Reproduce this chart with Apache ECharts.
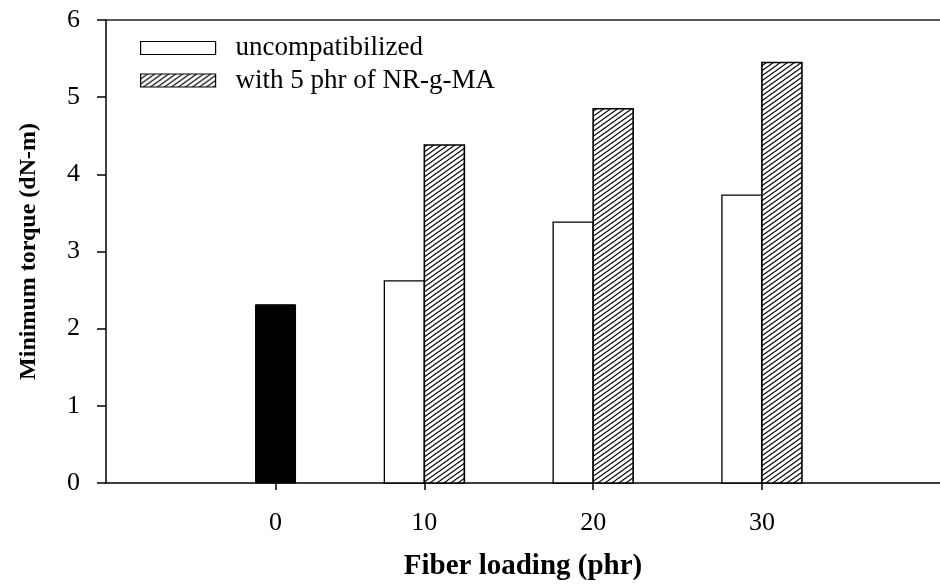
<!DOCTYPE html>
<html>
<head>
<meta charset="utf-8">
<script src="https://cdn.jsdelivr.net/npm/echarts@6/dist/echarts.min.js"></script>
<style>html,body{margin:0;padding:0;background:#fff;}#chart{width:940px;height:586px;}</style>
</head>
<body>
<div id="chart"></div>
<script>
// ---- data ----
const tickLabels = ['0', '10', '20', '30'];
const fiberLoading = [0, 10, 20, 30];
const controlLoading = [0];
const controlValues = [2.31];
const blendLoading = [10, 20, 30];
const uncompatibilized = [2.62, 3.38, 3.73];
const compatibilized = [4.38, 4.85, 5.45];
const seriesNames = ['uncompatibilized', 'with 5 phr of NR-g-MA'];

// ---- layout / style ----
const FONT = 'Liberation Serif';
const GRID = { left: 106, right: 0, top: 20, bottom: 101 };
const X_MIN = -8.86, X_MAX = 40.55;
const BAR_W = 40;
const plotW = 940 - GRID.left - GRID.right;
const pxPerUnit = plotW / (X_MAX - X_MIN);
// the single control bar sits right of its loading value; its tick is at the bar centre
const tickValues = fiberLoading.map((v, i) => i === 0 ? v + (BAR_W / 2) / pxPerUnit : v);

function hatch() {
  const c = document.createElement('canvas');
  c.width = 7; c.height = 5;
  const g = c.getContext('2d');
  g.fillStyle = '#fff'; g.fillRect(0, 0, 7, 5);
  g.strokeStyle = '#000'; g.lineWidth = 1.1;
  for (let k = -1; k <= 1; k++) {
    g.beginPath();
    g.moveTo(k * 7 - 1.4, 6); g.lineTo(k * 7 + 8.4, -1);
    g.stroke();
  }
  return { image: c, repeat: 'repeat' };
}
const hatchFill = hatch();

function barRenderer(side, fill, lw) {
  return function (params, api) {
    const x = api.value(0), y = api.value(1);
    const top = api.coord([x, y]);
    const base = api.coord([x, 0]);
    const left = side < 0 ? top[0] - BAR_W : top[0];
    return {
      type: 'rect',
      shape: { x: left, y: top[1], width: BAR_W, height: base[1] - top[1] },
      style: { fill: fill, stroke: '#000', lineWidth: lw }
    };
  };
}

const chart = echarts.init(document.getElementById('chart'), null, { renderer: 'canvas' });
chart.setOption({
  animation: false,
  backgroundColor: '#fff',
  textStyle: { fontFamily: FONT, color: '#000' },
  grid: GRID,
  legend: {
    orient: 'vertical',
    left: 140,
    top: 34.5,
    padding: 0,
    itemWidth: 75,
    itemHeight: 13,
    itemGap: 5.5,
    icon: 'rect',
    selectedMode: false,
    textStyle: { fontFamily: FONT, fontSize: 27, color: '#000', lineHeight: 26, padding: [0, 0, 0, 15] },
    data: [
      { name: seriesNames[0], itemStyle: { color: '#fff', borderColor: '#000', borderWidth: 1.2 } },
      { name: seriesNames[1], itemStyle: { color: hatchFill, borderColor: '#000', borderWidth: 1.2 } }
    ]
  },
  xAxis: [{
    type: 'value',
    min: X_MIN, max: X_MAX,
    position: 'bottom',
    name: 'Fiber loading (phr)',
    nameLocation: 'middle',
    nameGap: 69,
    nameTextStyle: { fontFamily: FONT, fontSize: 29, fontWeight: 'bold', color: '#000' },
    axisLine: { show: true, onZero: false, lineStyle: { color: '#000', width: 1.5 } },
    axisTick: { show: true, inside: false, length: 7, customValues: tickValues, lineStyle: { color: '#000', width: 1.5 } },
    axisLabel: {
      show: true, margin: 27, customValues: tickValues,
      fontFamily: FONT, fontSize: 26, color: '#000',
      formatter: function (v) {
        let best = 0;
        tickValues.forEach((t, i) => { if (Math.abs(t - v) < Math.abs(tickValues[best] - v)) best = i; });
        return tickLabels[best];
      }
    },
    splitLine: { show: false }
  }, {
    type: 'value',
    min: X_MIN, max: X_MAX,
    position: 'top',
    axisLine: { show: true, onZero: false, lineStyle: { color: '#222', width: 1.5 } },
    axisTick: { show: false },
    axisLabel: { show: false },
    splitLine: { show: false }
  }],
  yAxis: {
    type: 'value',
    min: 0, max: 6, interval: 1,
    name: 'Minimum torque (dN-m)',
    nameLocation: 'middle',
    nameGap: 65,
    nameRotate: 90,
    nameTextStyle: { fontFamily: FONT, fontSize: 24, fontWeight: 'bold', color: '#000' },
    axisLine: { show: true, onZero: false, lineStyle: { color: '#000', width: 1.5 } },
    axisTick: { show: true, inside: false, length: 9, lineStyle: { color: '#000', width: 1.5 } },
    axisLabel: { margin: 26, fontFamily: FONT, fontSize: 26, color: '#000' },
    splitLine: { show: false }
  },
  series: [
    {
      name: 'control', type: 'custom',
      renderItem: barRenderer(1, '#000', 1),
      encode: { x: 0, y: 1 },
      data: controlLoading.map((x, i) => [x, controlValues[i]])
    },
    {
      name: seriesNames[0], type: 'custom',
      itemStyle: { color: '#fff', borderColor: '#000' },
      renderItem: barRenderer(-1, '#fff', 1.3),
      encode: { x: 0, y: 1 },
      data: blendLoading.map((x, i) => [x, uncompatibilized[i]])
    },
    {
      name: seriesNames[1], type: 'custom',
      itemStyle: { color: hatchFill, borderColor: '#000' },
      renderItem: barRenderer(1, hatchFill, 1.6),
      encode: { x: 0, y: 1 },
      data: blendLoading.map((x, i) => [x, compatibilized[i]])
    }
  ]
});
</script>
</body>
</html>
